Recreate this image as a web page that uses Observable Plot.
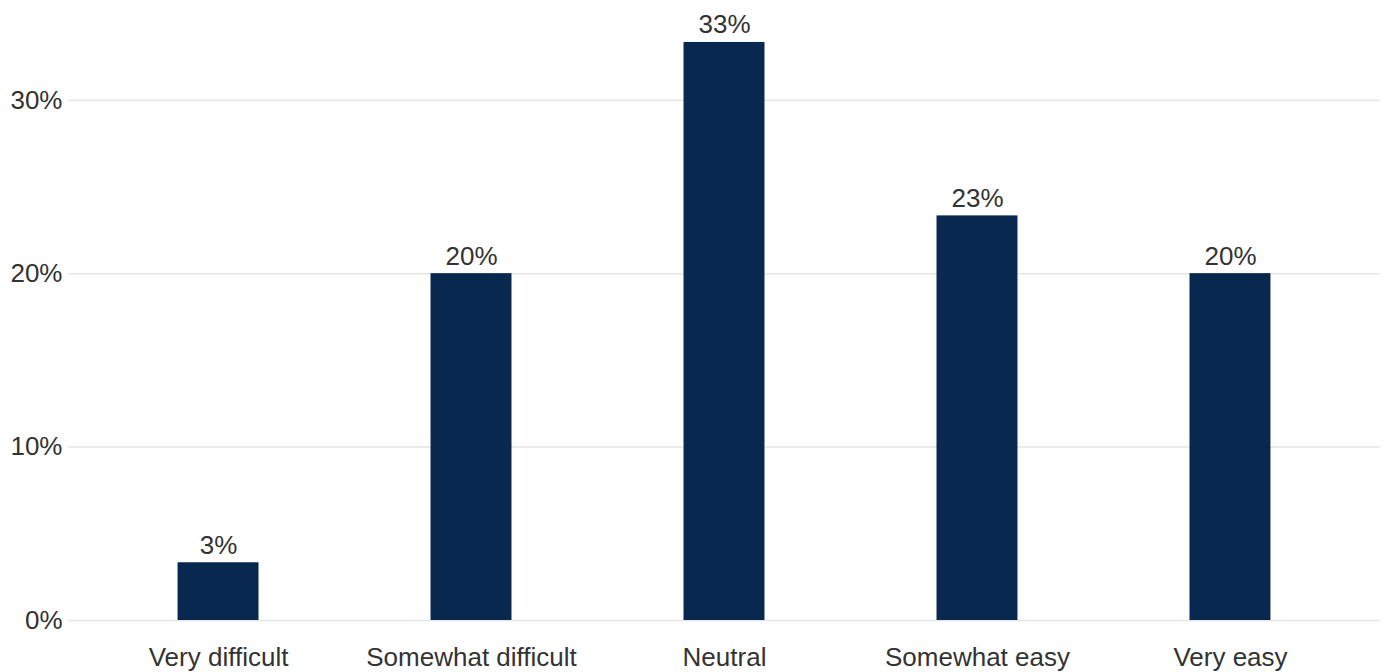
<!DOCTYPE html>
<html>
<head>
<meta charset="utf-8">
<script src="https://cdn.jsdelivr.net/npm/d3@7"></script>
<script src="https://cdn.jsdelivr.net/npm/@observablehq/plot@0.6"></script>
<style>
  html, body { margin: 0; padding: 0; background: #fff; }
  #chart { width: 1387px; height: 672px; }
</style>
</head>
<body>
<div id="chart"></div>
<script>
// Response categories, in order from hardest to easiest
const categories = ["Very difficult", "Somewhat difficult", "Neutral", "Somewhat easy", "Very easy"];
// Share of respondents per category (percent)
const shares = [3.33, 20, 33.33, 23.33, 20];
// Y axis ticks (percent)
const yTicks = [0, 10, 20, 30];

const data = categories.map((c, i) => ({category: c, share: shares[i]}));

const fmt = v => `${Math.round(v)}%`;

const chart = Plot.plot({
  width: 1387,
  height: 672,
  marginTop: 13,
  marginBottom: 52,
  marginLeft: 68,
  marginRight: 7,
  style: {
    fontFamily: "'Liberation Sans', Arial, sans-serif",
    fontSize: "26px",
    color: "#333",
    background: "#fff"
  },
  x: {domain: categories, paddingInner: 0.68, paddingOuter: 0.433, round: false, label: null},
  y: {domain: [0, 35], label: null},
  marks: [
    Plot.ruleY(yTicks, {stroke: "#e5e5e5", strokeWidth: 1.5}),
    Plot.axisY({ticks: yTicks, tickSize: 0, tickPadding: 6, tickFormat: fmt, label: null, fill: "#333"}),
    Plot.axisX({tickSize: 0, tickPadding: 27, label: null, fill: "#333"}),
    Plot.barY(data, {x: "category", y: "share", fill: "#08284f"}),
    Plot.text(data, {x: "category", y: "share", text: d => fmt(d.share), lineAnchor: "bottom", dy: -9, fill: "#333"})
  ]
});

document.getElementById("chart").appendChild(chart);
</script>
</body>
</html>
